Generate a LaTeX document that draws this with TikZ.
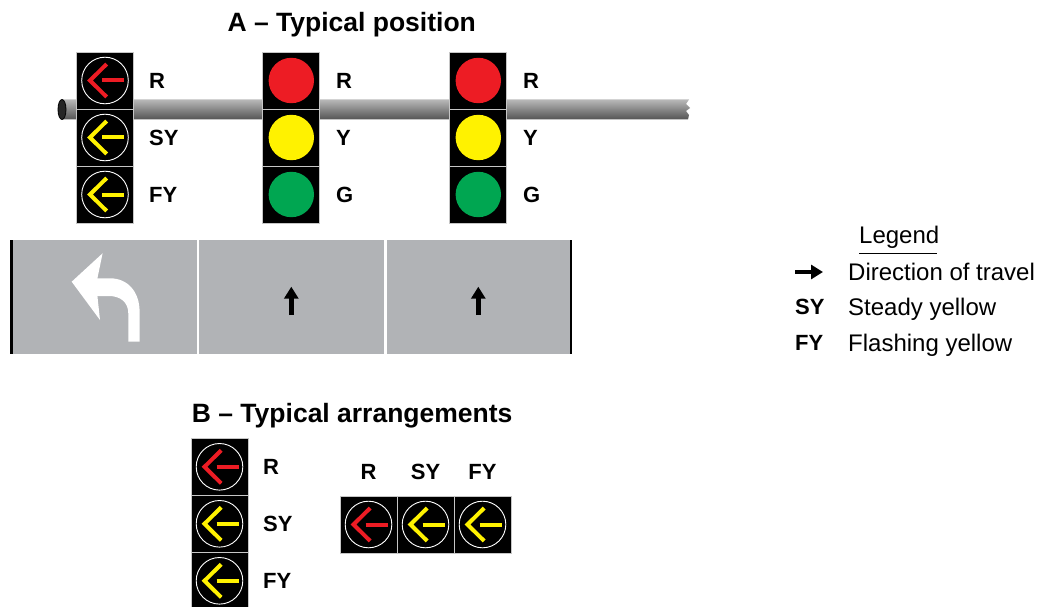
\documentclass[tikz,border=0pt]{standalone}
\usepackage{fontspec}
\setmainfont{Liberation Sans}
\usetikzlibrary{arrows.meta}
\definecolor{lampred}{HTML}{ED1C24}
\definecolor{lampyellow}{HTML}{FFF200}
\definecolor{lampgreen}{HTML}{00A651}
\definecolor{roadgray}{HTML}{B1B3B6}
\tikzset{cell/.style = {fill=black, draw=gray!45, line width=0.8pt}}
\tikzset{pics/ball/.style = {code={
    \path [cell] (-28.5, -28.5) rectangle (28.5, 28.5);
    \fill [#1] (0, 0) circle (22.7pt);}}}
\tikzset{pics/arrowlamp/.style = {code={
    \path [cell] (-28.5, -28.5) rectangle (28.5, 28.5);
    \draw [white, line width=0.9pt] (0, 0) circle (23.3pt);
    \draw [#1, line width=4pt] (1.7, -16.5) -- (-15, 0) -- (1.7, 16.5);
    \draw [#1, line width=4pt] (-3, 0) -- (19, 0);}}}
\tikzset{lbl/.style = {font=\fontsize{22}{26}\selectfont\bfseries,
                       inner sep=0pt, anchor=base west}}
\tikzset{headline/.style = {font=\fontsize{26.5}{30}\selectfont\bfseries,
                            inner sep=0pt}}
\tikzset{legtext/.style = {font=\fontsize{24}{28}\selectfont,
                           inner sep=0pt, anchor=base west}}
\tikzset{travel/.style = {line width=5pt,
                          -{Triangle[length=12pt, width=14pt]}}}

\begin{document}
\begin{tikzpicture}[x=1pt, y=-1pt]
      \useasboundingbox (0, 0) rectangle (1041, 607);

      % A - typical position
      \node [headline, anchor=base] (titleA) at (351.7, 31.5) {A -- Typical position};

      \shade [top color=gray!55, middle color=gray!30, bottom color=gray!65!black]
        (62, 99.5) -- (689, 99.5) -- (686, 104) -- (690, 108) -- (686, 111)
        -- (689, 115) -- (688, 119.5) -- (62, 119.5) -- cycle;
      \filldraw [fill=gray!30!black, draw=black, line width=0.8pt]
        (62, 109.5) ellipse (4pt and 10pt);

      \foreach \col [count=\i] in {lampred, lampyellow, lampyellow}
        \pic at (105, 23.5 + 57*\i) {arrowlamp=\col};
      \foreach \hx in {291.3, 478.3}
        \foreach \col [count=\i] in {lampred, lampyellow, lampgreen}
          \pic at (\hx, 23.5 + 57*\i) {ball=\col};

      \foreach \txt [count=\i] in {R, SY, FY}
        \node [lbl] (left\i) at (149, 31.4 + 57*\i) {\txt};
      \foreach \txt [count=\i] in {R, Y, G}
        \node [lbl] (mid\i) at (336, 31.4 + 57*\i) {\txt};
      \foreach \txt [count=\i] in {R, Y, G}
        \node [lbl] (right\i) at (523, 31.4 + 57*\i) {\txt};

      % road
      \fill [roadgray] (10, 240) rectangle (572, 354);
      \draw [white, line width=2.5pt] (198, 240) -- (198, 354);
      \draw [white, line width=2.5pt] (385.5, 240) -- (385.5, 354);
      \draw [line width=2.5pt] (11.5, 240) -- (11.5, 354);
      \draw [line width=2.5pt] (571, 240) -- (571, 354);

      \fill [white] (71.7, 281.7) -- (102.6, 253.3) -- (97.4, 278.3) -- (110, 278.3)
        .. controls (128, 278.3) and (139.6, 292) .. (139.6, 311.7)
        -- (139.6, 341.7) -- (128.3, 341.7) -- (128.3, 313.3)
        .. controls (128.3, 302) and (120, 296) .. (109, 296)
        -- (97.4, 296) -- (100, 320) -- cycle;
      \draw [travel] (291.3, 315) -- (291.3, 286.7);
      \draw [travel] (478.3, 315) -- (478.3, 286.7);

      % legend
      \node [legtext] (legend) at (859, 243.5) {Legend};
      \draw [line width=1.2pt] (legend.south west) ++(0, 4.5) -- ++(78, 0);
      \draw [travel, line width=4.5pt] (795, 272) -- (823, 272);
      \node [legtext] (dir) at (848, 280.5) {Direction of travel};
      \node [lbl] (keySY) at (795, 314.7) {SY};
      \node [legtext] (steady) at (848, 315) {Steady yellow};
      \node [lbl] (keyFY) at (795, 350.7) {FY};
      \node [legtext] (flash) at (848, 351) {Flashing yellow};

      % B - typical arrangements
      \node [headline, anchor=base west] (titleB) at (191.7, 422.5) {B -- Typical arrangements};

      \foreach \col [count=\i] in {lampred, lampyellow, lampyellow}
        \pic at (219.5, 409.8 + 57*\i) {arrowlamp=\col};
      \foreach \txt [count=\i] in {R, SY, FY}
        \node [lbl] (vert\i) at (263, 417.7 + 57*\i) {\txt};

      \foreach \col [count=\i] in {lampred, lampyellow, lampyellow}
        \pic at (311.5 + 57*\i, 524.5) {arrowlamp=\col};
      \foreach \txt [count=\i] in {R, SY, FY}
        \node [lbl, anchor=base] (horz\i) at (311.5 + 57*\i, 479) {\txt};
    \end{tikzpicture}
\end{document}
